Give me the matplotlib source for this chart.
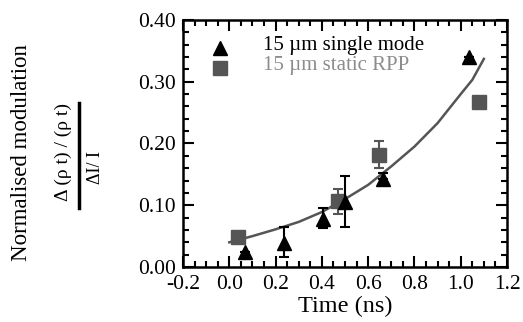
import matplotlib
matplotlib.use('Agg')
import matplotlib.pyplot as plt
from matplotlib.lines import Line2D
from matplotlib.ticker import MultipleLocator, FormatStrFormatter

plt.rcParams['font.family'] = ['Liberation Serif', 'DejaVu Serif']

# single mode (triangles)
tri_t = [0.068, 0.236, 0.405, 0.50, 0.664, 1.036]
tri_v = [0.025, 0.039, 0.077, 0.106, 0.143, 0.340]
tri_lo = [0.0, 0.023, 0.014, 0.041, 0.0, 0.0]
tri_hi = [0.0, 0.026, 0.018, 0.041, 0.009, 0.0]

# static RPP (squares)
sq_t = [0.038, 0.47, 0.647, 1.079]
sq_v = [0.049, 0.107, 0.181, 0.267]
sq_lo = [0.0, 0.021, 0.021, 0.0]
sq_hi = [0.0, 0.019, 0.023, 0.0]

# model curve
fit_t = [0.0, 0.1, 0.2, 0.3, 0.4, 0.5, 0.6, 0.7, 0.8, 0.9, 1.0, 1.05, 1.1]
fit_v = [0.040, 0.050, 0.061, 0.073, 0.089, 0.110, 0.133, 0.163, 0.195, 0.233, 0.280, 0.303, 0.337]

gray = '#555555'

fig = plt.figure(figsize=(5.23, 3.22), dpi=100)
ax = fig.add_axes([183/523, 1 - 267/322, 324/523, 247/322])

ax.plot(fit_t, fit_v, color=gray, linewidth=1.8, zorder=2)
ax.errorbar(sq_t, sq_v, yerr=[sq_lo, sq_hi], fmt='s', color=gray, ms=10,
            ecolor=gray, elinewidth=1.5, capsize=3.5, capthick=1.5, zorder=3)
ax.errorbar(tri_t, tri_v, yerr=[tri_lo, tri_hi], fmt='^', color='black', ms=10,
            ecolor='black', elinewidth=1.5, capsize=3.5, capthick=1.5, zorder=4)

ax.set_xlim(-0.2, 1.2)
ax.set_ylim(0.0, 0.4)
ax.xaxis.set_major_locator(MultipleLocator(0.2))
ax.xaxis.set_minor_locator(MultipleLocator(0.05))
ax.yaxis.set_major_locator(MultipleLocator(0.1))
ax.yaxis.set_minor_locator(MultipleLocator(0.02))
ax.xaxis.set_major_formatter(FormatStrFormatter('%.1f'))
ax.yaxis.set_major_formatter(FormatStrFormatter('%.2f'))
ax.tick_params(which='both', direction='in', top=True, right=True, width=1.5, labelsize=15.5)
ax.tick_params(which='major', length=8)
ax.tick_params(which='minor', length=4)
ax.tick_params(axis='x', pad=6)
ax.tick_params(axis='y', pad=5)
for s in ax.spines.values():
    s.set_linewidth(1.8)

ax.set_xlabel('Time (ns)', fontsize=17.5, labelpad=1)

# legend
ax.plot([-0.04], [0.355], '^', color='black', ms=10)
ax.plot([-0.04], [0.322], 's', color=gray, ms=10)
ax.text(0.146, 0.358, '15 µm single mode', fontsize=15, color='black', va='center')
ax.text(0.146, 0.326, '15 µm static RPP', fontsize=15, color='#8c8c8c', va='center')

# y label with fraction
fig.text(22/523, 1 - 153/322, 'Normalised modulation', rotation=90, fontsize=16.5,
         ha='center', va='center')
fig.text(63/523, 1 - 152/322, 'Δ (ρ t) / (ρ t)', rotation=90, fontsize=14,
         ha='center', va='center')
fig.text(95/523, 1 - 167/322, 'ΔI/ I', rotation=90, fontsize=13,
         ha='center', va='center')
fig.add_artist(Line2D([79/523, 79/523], [1 - 103/322, 1 - 208/322], color='black',
                      linewidth=2.5, transform=fig.transFigure))

fig.savefig('out.png', dpi=100)
